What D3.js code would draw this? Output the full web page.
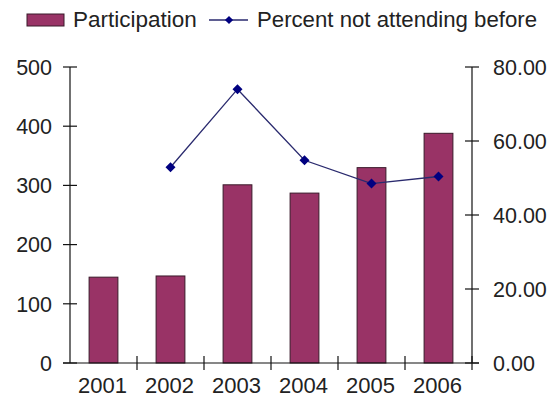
<!DOCTYPE html>
<html><head><meta charset="utf-8">
<script src="https://cdn.jsdelivr.net/npm/d3@7"></script>
<style>body{margin:0;background:#fff}svg{display:block}text{font-family:"Liberation Sans",Arial,sans-serif;fill:#222}</style>
</head><body>
<script>
const years = ["2001","2002","2003","2004","2005","2006"];
const participation = [145, 147, 301, 287, 330, 388];
const pctYears = ["2002","2003","2004","2005","2006"];
const pctNotAttending = [52.9, 74.0, 54.8, 48.5, 50.4];
const leftTicks = [0,100,200,300,400,500];
const rightTicks = [0,20,40,60,80];

const W=550,H=405;
const svg=d3.select("body").append("svg").attr("width",W).attr("height",H);
const x0=70,x1=472,yTop=67,yBot=363;
const x=d3.scaleBand().domain(years).range([x0,x1]).paddingInner(0.57).paddingOuter(0.285);
const band=d3.scaleBand().domain(years).range([x0,x1]);
const yL=d3.scaleLinear().domain([0,500]).range([yBot,yTop]);
const yR=d3.scaleLinear().domain([0,80]).range([yBot,yTop]);
const fs=21.5;

// bars
svg.append("g").selectAll("rect").data(years).join("rect")
 .attr("x",d=>x(d)).attr("width",x.bandwidth())
 .attr("y",(d,i)=>yL(participation[i])).attr("height",(d,i)=>yBot-yL(participation[i]))
 .attr("fill","#993366").attr("stroke","#3a1a2a").attr("stroke-width",1);

// axes
const ax=svg.append("g").attr("stroke","#111").attr("stroke-width",1.2);
ax.append("line").attr("x1",x0).attr("x2",x0).attr("y1",yTop).attr("y2",yBot);
ax.append("line").attr("x1",x1).attr("x2",x1).attr("y1",yTop).attr("y2",yBot);
ax.append("line").attr("x1",x0-7).attr("x2",x1+7).attr("y1",yBot).attr("y2",yBot);
leftTicks.forEach(t=>ax.append("line").attr("x1",x0-7).attr("x2",x0+7).attr("y1",yL(t)).attr("y2",yL(t)));
rightTicks.forEach(t=>ax.append("line").attr("x1",x1-7).attr("x2",x1+7).attr("y1",yR(t)).attr("y2",yR(t)));
years.forEach(d=>{const xx=band(d)+band.bandwidth();ax.append("line").attr("x1",xx).attr("x2",xx).attr("y1",yBot-7).attr("y2",yBot+7);});

svg.append("g").selectAll("text").data(leftTicks).join("text")
 .attr("x",x0-18).attr("y",d=>yL(d)).attr("dy","0.36em").attr("text-anchor","end")
 .attr("font-size",fs).text(d=>d);
svg.append("g").selectAll("text").data(rightTicks).join("text")
 .attr("x",x1+21).attr("y",d=>yR(d)).attr("dy","0.36em").attr("text-anchor","start")
 .attr("font-size",fs).text(d=>d.toFixed(2));
svg.append("g").selectAll("text").data(years).join("text")
 .attr("x",d=>band(d)+band.bandwidth()/2-1).attr("y",yBot+30).attr("text-anchor","middle")
 .attr("font-size",22).text(d=>d);

// line
const cx=d=>band(d)+band.bandwidth()/2;
const line=d3.line().x(d=>cx(d[0])).y(d=>yR(d[1]));
const pts=pctYears.map((d,i)=>[d,pctNotAttending[i]]);
svg.append("path").datum(pts).attr("d",line).attr("fill","none").attr("stroke","#2a2a6e").attr("stroke-width",1.3);
svg.append("g").selectAll("path").data(pts).join("path")
 .attr("d",d3.symbol().type(d3.symbolSquare).size(50)).attr("transform",d=>`translate(${cx(d[0])},${yR(d[1])}) rotate(45)`)
 .attr("fill","#000080");

// legend
const lg=svg.append("g");
lg.append("rect").attr("x",27).attr("y",14).attr("width",37).attr("height",12).attr("fill","#993366").attr("stroke","#3a1a2a");
lg.append("text").attr("x",73).attr("y",27).attr("font-size",22.5).text("Participation");
lg.append("line").attr("x1",209).attr("x2",248).attr("y1",20).attr("y2",20).attr("stroke","#2a2a6e").attr("stroke-width",1.3);
lg.append("path").attr("d",d3.symbol().type(d3.symbolSquare).size(34)).attr("transform","translate(229,20) rotate(45)").attr("fill","#000080");
lg.append("text").attr("x",257).attr("y",27).attr("font-size",22.2).text("Percent not attending before");
</script>
</body></html>
